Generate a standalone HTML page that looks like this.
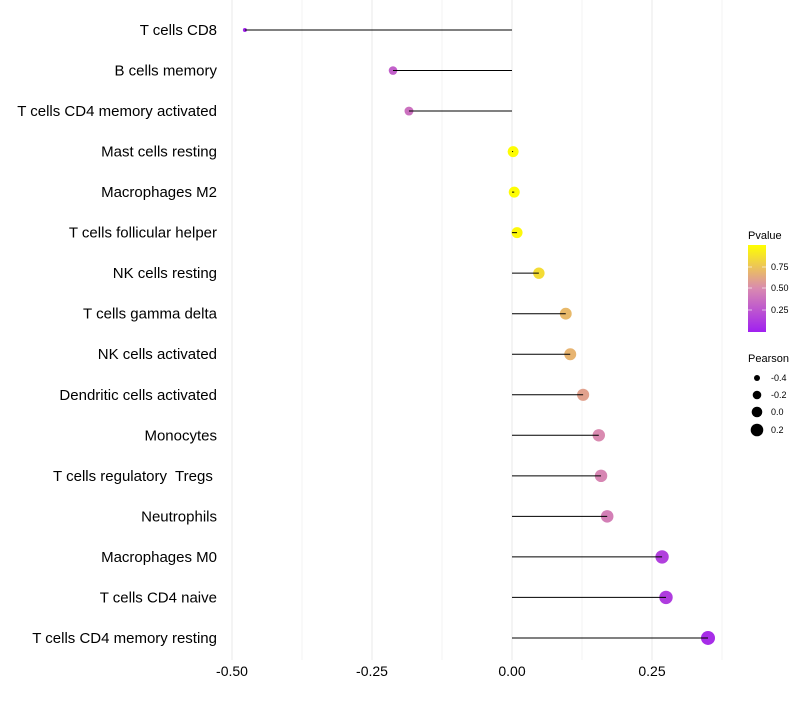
<!DOCTYPE html>
<html><head><meta charset="utf-8"><style>
body{margin:0;background:#fff;font-family:"Liberation Sans",sans-serif}
text{white-space:pre}
</style></head><body>
<svg id="c" width="800" height="700" xmlns="http://www.w3.org/2000/svg" font-family="Liberation Sans, sans-serif">
<defs><linearGradient id="pg" x1="0" y1="1" x2="0" y2="0">
<stop offset="0" stop-color="#A020F0"/><stop offset="0.5" stop-color="#D98AB0"/><stop offset="1" stop-color="#FFFF00"/></linearGradient></defs>
<g id="grid"></g><g id="dots"></g><g id="marks"></g><g id="labels"></g>
<g>
<text x="748" y="239" font-size="11" fill="#000">Pvalue</text>
<rect x="748" y="245" width="18" height="87" fill="url(#pg)"/>
<g stroke="#fff" stroke-width="1" opacity="0.6"><line x1="748" y1="267" x2="752" y2="267"/><line x1="762" y1="267" x2="766" y2="267"/><line x1="748" y1="288" x2="752" y2="288"/><line x1="762" y1="288" x2="766" y2="288"/><line x1="748" y1="310" x2="752" y2="310"/><line x1="762" y1="310" x2="766" y2="310"/></g>
<text x="771" y="270" font-size="9">0.75</text><text x="771" y="291" font-size="9">0.50</text><text x="771" y="313" font-size="9">0.25</text>
</g>
<g>
<text x="748" y="362" font-size="11">Pearson</text>
<circle cx="757" cy="378" r="3"/><circle cx="757" cy="395" r="4.3"/><circle cx="757" cy="412" r="5.3"/><circle cx="757" cy="430" r="6.3"/>
<text x="771" y="381" font-size="9">-0.4</text><text x="771" y="398" font-size="9">-0.2</text><text x="771" y="415" font-size="9">0.0</text><text x="771" y="433" font-size="9">0.2</text>
</g>
</svg>
<script>
const categories=["T cells CD8","B cells memory","T cells CD4 memory activated","Mast cells resting","Macrophages M2","T cells follicular helper","NK cells resting","T cells gamma delta","NK cells activated","Dendritic cells activated","Monocytes","T cells regulatory  Tregs ","Neutrophils","Macrophages M0","T cells CD4 naive","T cells CD4 memory resting"];
const pearson=[-0.477,-0.2125,-0.184,0.002,0.004,0.009,0.048,0.096,0.104,0.127,0.155,0.159,0.17,0.268,0.275,0.35];
const pvalue=[0.02,0.3,0.38,0.99,0.99,0.97,0.85,0.7,0.68,0.6,0.5,0.48,0.45,0.15,0.13,0.06];
const xTicks=[-0.5,-0.25,0,0.25];
const xTickLabels=["-0.50","-0.25","0.00","0.25"];
const NS="http://www.w3.org/2000/svg";
const xs=v=>512+v*560;
const ys=i=>30+i*40.53;
function col(p){const a=[160,32,240],m=[217,138,176],b=[255,255,0];let c0,c1,t;if(p<0.5){c0=a;c1=m;t=p/0.5}else{c0=m;c1=b;t=(p-0.5)/0.5}return `rgb(${c0.map((v,k)=>Math.round(v+(c1[k]-v)*t)).join(',')})`}
function mk(t,at,par){const e=document.createElementNS(NS,t);for(const k in at)e.setAttribute(k,at[k]);document.getElementById(par).appendChild(e);return e}
for(let v=-0.5;v<=0.376;v+=0.125){const l=mk('line',{x1:xs(v),x2:xs(v),y1:0,y2:660,stroke:'#ebebeb','stroke-width':Math.abs((v*4)%1)<1e-6?1.1:0.6},'grid');

}
xTicks.forEach((v,i)=>{const t=mk('text',{x:xs(v),y:676,'font-size':14,'text-anchor':'middle',fill:'#000'},'labels');t.textContent=xTickLabels[i];

});
categories.forEach((c,i)=>{const y=ys(i);
const t=mk('text',{x:217,y:y+5,'font-size':15,'text-anchor':'end',fill:'#000'},'labels');t.textContent=c;


const r=Math.sqrt(Math.max(4,4+(pearson[i]+0.477)*54.5));
const d=mk('circle',{cx:xs(pearson[i]),cy:y,r:r,fill:col(pvalue[i])},'dots');


const l=mk('line',{x1:xs(0),x2:xs(pearson[i]),y1:y,y2:y,stroke:'#000','stroke-width':1},'marks');

});
</script>
</body></html>
